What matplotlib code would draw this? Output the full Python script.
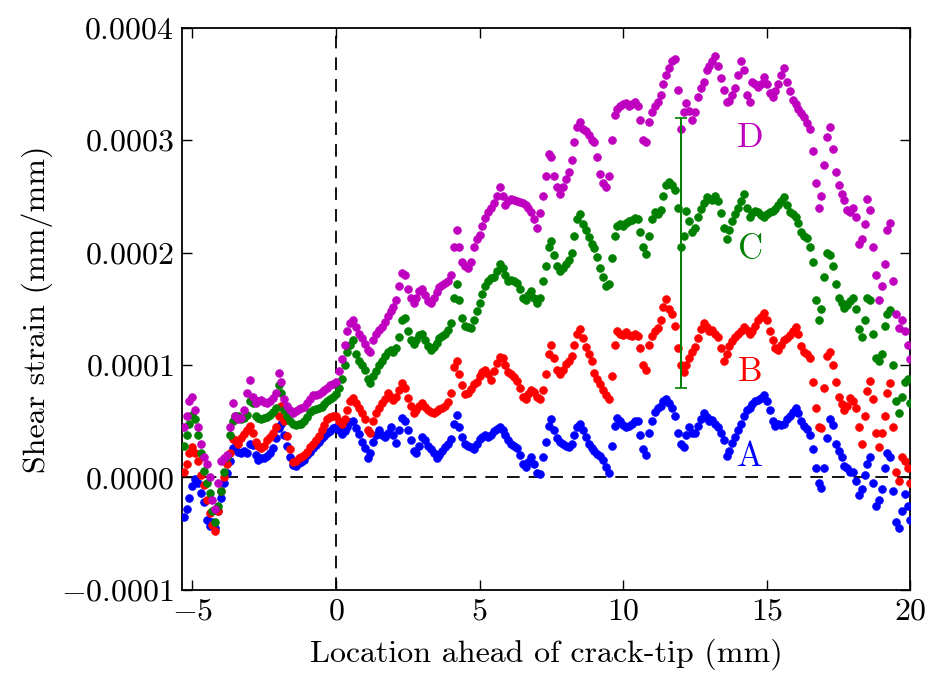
import matplotlib
matplotlib.use('Agg')
import matplotlib.pyplot as plt
import numpy as np

plt.rcParams['font.family'] = 'serif'
plt.rcParams['font.serif'] = ['cmr10']
plt.rcParams['mathtext.fontset'] = 'cm'
plt.rcParams['axes.formatter.use_mathtext'] = True

# positions along the crack line (mm), one sample every 0.1 mm from -5.3 to 20.0
X_START, X_STEP = -5.3, 0.1

# shear strain in microstrain (1e-6 mm/mm); each row covers 1 mm starting at the x in the comment
strain_A = [
    -35, -28, -18, -8, -1, -5, -14, -22, -38, -43,   # -5.3
    -40, -45, -30, -18, -5, 4, 15, 26, 25, 23,       # -4.3
    22, 24, 22, 30, 29, 20, 16, 17, 17, 19,          # -3.3
    22, 26, 35, 44, 48, 38, 28, 18, 11, 10,          # -2.3
    13, 14, 16, 20, 23, 26, 29, 32, 35, 37,          # -1.3
    40, 41, 44, 45, 42, 39, 41, 45, 49, 50,          # -0.3
    44, 39, 32, 26, 17, 22, 32, 38, 42, 38,          # 0.7
    36, 40, 45, 38, 31, 42, 53, 50, 42, 33,          # 1.7
    24, 22, 28, 36, 33, 28, 25, 22, 17, 20,          # 2.7
    24, 27, 30, 34, 48, 56, 45, 36, 30, 28,          # 3.7
    27, 25, 30, 34, 36, 38, 36, 38, 41, 43,          # 4.7
    45, 42, 38, 33, 30, 28, 26, 20, 12, 9,           # 5.7
    14, 18, 12, 4, 3, 18, 32, 46, 52, 42,            # 6.7
    35, 32, 30, 28, 27, 30, 38, 45, 48, 42,          # 7.7
    36, 30, 26, 24, 21, 19, 16, 9, 4, 28,            # 8.7
    46, 53, 50, 47, 45, 46, 48, 50, 50, 38,          # 9.7
    25, 20, 40, 50, 58, 62, 64, 68, 70, 66,          # 10.7
    62, 55, 40, 30, 27, 38, 45, 40, 40, 46,          # 11.7
    52, 57, 54, 50, 51, 48, 45, 40, 33, 19,          # 12.7
    24, 31, 36, 42, 48, 55, 60, 62, 65, 68,          # 13.7
    69, 71, 73, 68, 60, 50, 46, 48, 47, 48,          # 14.7
    52, 55, 58, 62, 57, 50, 46, 43, 38, 25,          # 15.7
    8, -5, -9, 8, 35, 52, 47, 30, 24, 18,            # 16.7
    10, 8, 5, 5, -3, -16, -10, 2, 12, 18,            # 17.7
    -5, -25, -20, -10, 8, 22, 18, -12, -40, -45,     # 18.7
    -30, -15, -25, -38,                              # 19.7
]

strain_B = [
    5, 12, 22, 27, 22, 15, 2, -7, -20, -32,          # -5.3
    -42, -48, -30, -12, 0, 12, 22, 34, 33, 30,       # -4.3
    35, 39, 42, 46, 40, 32, 28, 26, 28, 33,          # -3.3
    36, 40, 45, 55, 64, 50, 37, 25, 14, 15,          # -2.3
    17, 18, 20, 23, 27, 30, 33, 37, 42, 47,          # -1.3
    52, 54, 55, 55, 50, 48, 52, 60, 68, 71,          # -0.3
    66, 62, 57, 52, 42, 40, 50, 57, 62, 66,          # 0.7
    70, 75, 72, 69, 72, 78, 84, 80, 71, 64,          # 1.7
    57, 60, 64, 66, 63, 60, 58, 57, 59, 61,          # 2.7
    62, 64, 67, 75, 98, 104, 92, 82, 74, 75,         # 3.7
    79, 83, 85, 90, 94, 96, 92, 87, 95, 102,         # 4.7
    107, 106, 100, 94, 92, 89, 86, 80, 72, 70,       # 5.7
    74, 78, 76, 72, 70, 78, 92, 110, 118, 106,       # 6.7
    96, 92, 96, 101, 104, 108, 118, 128, 132, 124,   # 7.7
    116, 110, 104, 93, 88, 83, 78, 73, 70, 90,       # 8.7
    118, 130, 128, 127, 129, 127, 126, 128, 126, 115,  # 9.7
    100, 96, 118, 126, 130, 133, 140, 152, 159, 150,   # 10.7
    145, 135, 115, 100, 94, 100, 106, 112, 116, 124,   # 11.7
    132, 137, 134, 130, 131, 128, 125, 115, 104, 110,  # 12.7
    117, 121, 125, 128, 130, 134, 131, 128, 130, 135,  # 13.7
    140, 143, 146, 140, 130, 122, 115, 113, 118, 122,  # 14.7
    124, 127, 130, 134, 128, 117, 112, 110, 106, 85,   # 15.7
    62, 45, 44, 80, 108, 112, 100, 85, 72, 65,         # 16.7
    60, 64, 71, 68, 62, 45, 30, 55, 77, 86,            # 17.7
    70, 40, 27, 40, 55, 75, 84, 45, 5, -3,             # 18.7
    18, 15, 8, -5,                                     # 19.7
]

strain_C = [
    28, 38, 48, 56, 52, 38, 22, 6, -5, -14,          # -5.3
    -30, -40, -25, -12, 5, 18, 38, 50, 55, 55,       # -4.3
    52, 53, 56, 68, 66, 55, 53, 52, 53, 54,          # -3.3
    56, 58, 62, 82, 75, 60, 55, 50, 48, 47,          # -2.3
    48, 48, 50, 54, 58, 60, 61, 62, 63, 65,          # -1.3
    68, 70, 72, 74, 80, 88, 100, 112, 118, 122,      # -0.3
    110, 104, 100, 96, 88, 84, 90, 95, 100, 104,     # 0.7
    108, 112, 113, 112, 115, 125, 140, 142, 130, 122,  # 1.7
    119, 122, 127, 128, 122, 117, 113, 116, 120, 124,  # 2.7
    126, 128, 131, 137, 160, 172, 158, 142, 135, 134,  # 3.7
    133, 140, 148, 155, 163, 170, 175, 177, 178, 184,  # 4.7
    190, 186, 180, 175, 176, 175, 173, 168, 160, 158,  # 5.7
    162, 166, 160, 155, 160, 175, 188, 205, 210, 198,  # 6.7
    188, 184, 186, 190, 193, 200, 215, 230, 234, 225,  # 7.7
    220, 214, 208, 204, 196, 186, 178, 170, 172, 195,  # 8.7
    215, 224, 225, 224, 226, 228, 229, 231, 230, 218,  # 9.7
    205, 199, 215, 230, 236, 234, 238, 250, 260, 263,  # 10.7
    260, 256, 240, 205, 215, 237, 228, 218, 222, 232,  # 11.7
    239, 244, 249, 248, 247, 250, 246, 235, 222, 212,  # 12.7
    220, 228, 234, 240, 246, 252, 240, 232, 235, 237,  # 13.7
    236, 233, 232, 234, 236, 237, 239, 242, 246, 249,  # 14.7
    242, 236, 234, 232, 226, 218, 215, 213, 205, 192,  # 15.7
    158, 140, 150, 178, 200, 198, 188, 172, 160, 155,  # 16.7
    151, 153, 157, 160, 150, 132, 125, 140, 160, 158,  # 17.7
    128, 106, 104, 110, 135, 145, 149, 100, 68, 57,    # 18.7
    72, 85, 88, 66,                                    # 19.7
]

strain_D = [
    45, 55, 68, 72, 60, 45, 30, 18, 12, 0,           # -5.3
    -20, -28, -5, 15, 17, 20, 45, 66, 55, 52,        # -4.3
    53, 60, 75, 87, 72, 66, 68, 69, 67, 66,          # -3.3
    68, 71, 75, 93, 85, 70, 64, 60, 57, 59,          # -2.3
    61, 62, 63, 66, 70, 73, 73, 74, 76, 78,          # -1.3
    80, 82, 83, 85, 95, 105, 118, 130, 137, 140,     # -0.3
    134, 128, 124, 119, 113, 112, 122, 128, 131, 134,  # 0.7
    138, 144, 148, 152, 158, 170, 182, 180, 168, 160,  # 1.7
    155, 160, 166, 168, 162, 157, 155, 160, 165, 169,  # 2.7
    171, 173, 175, 180, 205, 220, 205, 192, 188, 186,  # 3.7
    192, 205, 212, 216, 224, 231, 236, 240, 244, 250,  # 4.7
    258, 250, 242, 246, 248, 247, 246, 245, 244, 242,  # 5.7
    240, 236, 230, 222, 235, 250, 268, 288, 285, 268,  # 6.7
    258, 252, 258, 265, 272, 282, 298, 312, 316, 310,  # 7.7
    308, 305, 300, 298, 285, 270, 262, 258, 268, 300,  # 8.7
    322, 328, 330, 332, 333, 330, 332, 334, 330, 318,  # 9.7
    300, 298, 316, 325, 330, 334, 340, 350, 358, 364,  # 10.7
    370, 372, 345, 310, 325, 333, 326, 318, 325, 338,  # 11.7
    346, 352, 362, 366, 370, 375, 366, 355, 345, 334,  # 12.7
    335, 340, 346, 358, 370, 362, 340, 334, 352, 350,  # 13.7
    347, 350, 356, 350, 342, 338, 344, 350, 358, 364,  # 14.7
    352, 344, 336, 332, 328, 324, 321, 315, 310, 290,  # 15.7
    262, 240, 250, 278, 303, 312, 292, 272, 260, 252,  # 16.7
    247, 238, 236, 240, 232, 208, 212, 225, 248, 238,  # 17.7
    205, 180, 158, 170, 190, 220, 226, 175, 145, 133,  # 18.7
    140, 130, 118, 105,                                # 19.7
]

series = [
    ('A', strain_A, 'b', 18),
    ('B', strain_B, 'r', 94),
    ('C', strain_C, 'g', 202),
    ('D', strain_D, 'm', 302),
]
label_x = 14.42

# scatter band on curve C at x = 12 mm
err_x, err_mid, err_half = 12.0, 200e-6, 120e-6

fig = plt.figure(figsize=(9.3, 6.75), dpi=100)
ax = fig.add_axes([0.196, 0.126, 0.783, 0.833])

for name, vals, col, ly in series:
    y = np.array(vals) * 1e-6
    x = X_START + X_STEP * np.arange(len(y))
    ax.plot(x, y, 'o', color=col, markersize=5.7, markeredgewidth=0.4,
            markeredgecolor=col, zorder=3)
    ax.text(label_x, ly * 1e-6, name, color=col, fontsize=25,
            ha='center', va='center', zorder=5)

ax.errorbar(err_x, err_mid, yerr=err_half, color='g', capsize=4.5,
            elinewidth=1.4, capthick=1.2, zorder=4)

ax.axhline(0, color='k', ls='--', lw=1.3, dashes=(7, 5), zorder=2)
ax.axvline(0, color='k', ls='--', lw=1.3, dashes=(7, 5), zorder=2)

ax.set_xlim(-5.35, 20)
ax.set_ylim(-0.0001, 0.0004)
ax.set_xticks([-5, 0, 5, 10, 15, 20])
ax.set_yticks([-0.0001, 0.0, 0.0001, 0.0002, 0.0003, 0.0004])
ax.xaxis.set_major_formatter(plt.FuncFormatter(lambda v, _: r'$%d$' % round(v)))
ax.yaxis.set_major_formatter(plt.FuncFormatter(lambda v, _: r'$%.4f$' % v))
ax.tick_params(direction='in', top=True, right=True, length=7, width=1,
               labelsize=23, pad=6)
for s in ax.spines.values():
    s.set_linewidth(1.3)

ax.set_xlabel('Location ahead of crack-tip (mm)', fontsize=23, labelpad=9)
ax.set_ylabel('Shear strain (mm/mm)', fontsize=23, labelpad=6)

fig.savefig('out.png', dpi=100)
plt.close(fig)
